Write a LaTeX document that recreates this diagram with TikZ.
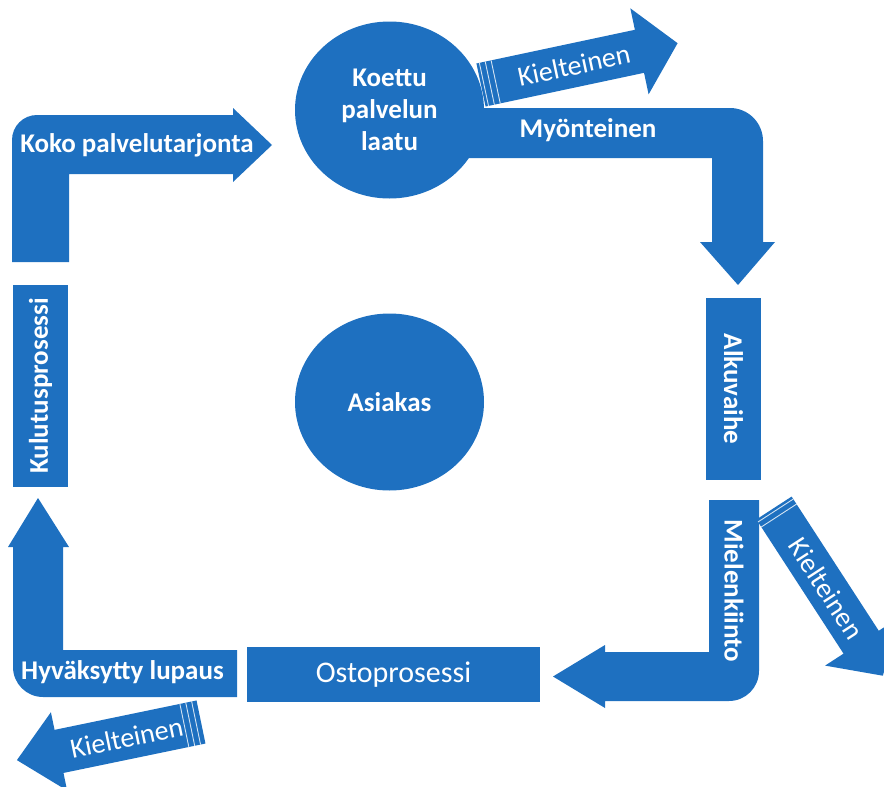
\documentclass[tikz,border=0pt]{standalone}
\usepackage{fontspec}
\setmainfont{Carlito}
\usetikzlibrary{shapes.geometric}
\definecolor{asiakasblue}{RGB}{30,112,192}

\begin{document}
\begin{tikzpicture}[x=1pt, y=-1pt,
    lbl/.style={text=white, font=\bfseries\fontsize{27}{32}\selectfont, align=center, inner sep=0pt},
    kiel/.style={text=white, font=\fontsize{28}{30}\selectfont, transform shape, inner sep=0pt},
    box/.style={fill=asiakasblue, lbl},
    ball/.style={ellipse, fill=asiakasblue, lbl, minimum width=189pt, minimum height=177pt},
    stripe/.style={draw=white, opacity=0.8, line width=0.9pt}]
  \useasboundingbox (0,0) rectangle (884,787);
  \clip (0,0) rectangle (884,787);

  % koko palvelutarjonta
  \fill[asiakasblue] (12,262) -- (12,140) arc (180:270:25) -- (233,115) -- (233,108) -- (272,145)
    -- (233,182) -- (233,174) -- (69,174) -- (69,262) -- cycle;
  \node[lbl] (koko) at (137,145) {Koko palvelutarjonta};

  % myonteinen
  \fill[asiakasblue] (420,108) -- (730,108) arc (270:360:33) -- (763,242) -- (775,242) -- (738,285)
    -- (700,242) -- (712,242) -- (712,158) -- (420,158) -- cycle;
  \node[lbl] (myont) at (588,130) {Myönteinen};

  \node[ball] (koettu) at (389.5,110) {Koettu\\palvelun\\laatu};
  \node[ball] (asiakas) at (389.5,402) {Asiakas};

  \begin{scope}[shift={(481,85)}, rotate=12]
    \fill[asiakasblue] (0,-22) -- (162,-22) -- (162,-44) -- (201,0) -- (162,44) -- (162,22) -- (0,22) -- cycle;
    \foreach \s in {3,9,15} \draw[stripe] (\s,-22) -- (\s,22);
    \node[kiel] (kielt1) at (95,0) {Kielteinen};
  \end{scope}

  \node[box, rotate=-90, minimum width=182pt, minimum height=55pt] (alku) at (733.5,389) {Alkuvaihe};

  % mielenkiinto
  \fill[asiakasblue] (709,500) -- (759,500) -- (759,671) arc (0:90:30) -- (605,701) -- (605,708) -- (553,676.5)
    -- (605,645) -- (605,652) -- (709,652) -- cycle;
  \node[lbl, rotate=-90] (mielen) at (734,591) {Mielenkiinto};

  \begin{scope}[shift={(774,508)}, rotate=-57]
    \fill[asiakasblue] (0,-21) -- (160,-21) -- (160,-43) -- (200,0) -- (160,43) -- (160,21) -- (0,21) -- cycle;
    \foreach \s in {3,9} \draw[stripe] (\s,-21) -- (\s,21);
    \node[kiel] (kielt2) at (96,0) {Kielteinen};
  \end{scope}

  \node[box, minimum width=293pt, minimum height=55pt, font=\fontsize{30}{32}\selectfont] (osto) at (393.5,674.5) {Ostoprosessi};

  % hyvaksytty lupaus
  \fill[asiakasblue] (237,650) -- (237,697) -- (43,697) arc (90:180:30) -- (13,547) -- (8,547) -- (38,498)
    -- (69,547) -- (63,547) -- (63,650) -- cycle;
  \node[lbl] (hyvak) at (122.5,672) {Hyväksytty lupaus};

  \begin{scope}[shift={(201,722)}, rotate=11.7]
    \fill[asiakasblue] (0,-22) -- (-145,-22) -- (-145,-40) -- (-188,0) -- (-145,40) -- (-145,22) -- (0,22) -- cycle;
    \foreach \s in {-5,-11,-17} \draw[stripe] (\s,-22) -- (\s,22);
    \node[kiel] (kielt3) at (-76,0) {Kielteinen};
  \end{scope}

  \node[box, rotate=90, minimum width=202pt, minimum height=55pt] (kulutus) at (40.5,386) {Kulutusprosessi};
\end{tikzpicture}
\end{document}
